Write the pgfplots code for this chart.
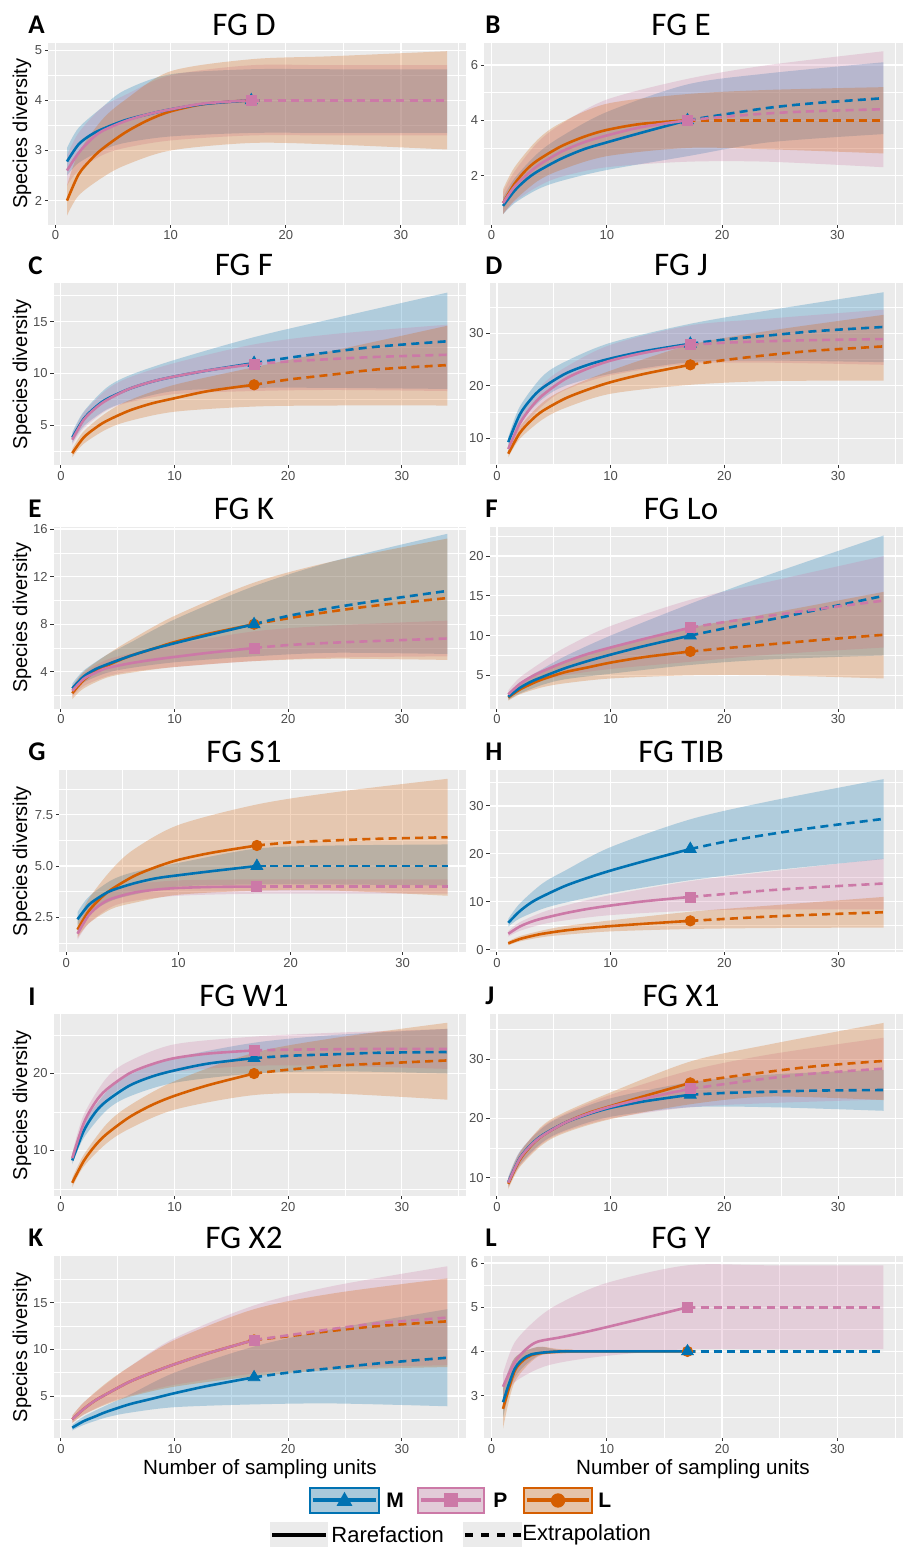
\documentclass[border=0pt]{standalone}
\usepackage{fontspec}
\setmainfont{Liberation Sans}
\newfontfamily\titlefont{Carlito}
\usepackage{xcolor}
\usepackage{pgfplots}
\usepackage{pgfplotstable}
\pgfplotsset{compat=1.18}
\usepgfplotslibrary{fillbetween}
\definecolor{Mc}{HTML}{0072B2}
\definecolor{Pc}{HTML}{CC79A7}
\definecolor{Lc}{HTML}{D55E00}
\definecolor{ggbg}{HTML}{EBEBEB}
\definecolor{ggtxt}{HTML}{4D4D4D}
\definecolor{ggtick}{HTML}{333333}

\pgfplotsset{
  gg/.style={
    scale only axis, height=91pt,
    xmin=-0.65, xmax=35.65,
    xtick={0,10,20,30}, minor xtick={5,15,25,35},
    xmajorgrids, ymajorgrids, xminorgrids, yminorgrids,
    major grid style={white, line width=0.6pt},
    minor grid style={white, line width=0.3pt},
    axis background/.style={fill=ggbg},
    axis line style={draw=none},
    tick align=outside, tick pos=left,
    major tick length=1.6pt, minor tick length=0pt,
    tick style={ggtick, line width=0.45pt},
    ticklabel style={font=\fontsize{6.5}{7}\selectfont, text=ggtxt, inner sep=1.2pt},
    /pgf/number format/assume math mode=true,
    set layers,
  },
}

% rarefaction/extrapolation means: x M P L
\pgfplotstableread{
x M P L
1 2.78 2.60 2.00
2 3.12 2.95 2.52
3 3.30 3.20 2.80
4 3.42 3.38 3.02
6 3.60 3.58 3.35
8 3.72 3.72 3.60
10 3.82 3.82 3.78
13 3.93 3.94 3.93
17 4.00 4.00 4.00
20 4.00 4.00 4.00
24 4.00 4.00 4.00
28 4.00 4.00 4.00
34 4.00 4.00 4.00
}\mA
\pgfplotstableread{
x Ml Mh Pl Ph Ll Lh
1 2.50 3.05 2.30 2.90 1.70 2.30
2 2.75 3.45 2.60 3.35 2.10 2.95
4 3.00 3.85 2.90 3.85 2.45 3.60
6 3.15 4.20 3.05 4.10 2.70 4.00
10 3.28 4.52 3.20 4.50 3.00 4.58
17 3.35 4.62 3.30 4.70 3.15 4.82
24 3.35 4.62 3.30 4.70 3.12 4.88
34 3.35 4.62 3.30 4.70 3.02 4.98
}\bA

\pgfplotstableread{
x M P L
1 0.90 1.00 1.00
2 1.45 1.60 1.70
3 1.85 2.00 2.20
4 2.15 2.35 2.55
6 2.60 2.85 3.05
8 2.95 3.20 3.40
10 3.20 3.45 3.65
13 3.55 3.75 3.87
17 4.00 4.00 4.00
20 4.20 4.12 4.00
24 4.45 4.25 4.00
28 4.62 4.33 4.00
34 4.80 4.40 4.00
}\mB
\pgfplotstableread{
x Ml Mh Pl Ph Ll Lh
1 0.60 1.20 0.60 1.40 0.60 1.50
2 1.00 1.90 1.05 2.15 1.10 2.30
4 1.50 2.80 1.60 3.20 1.80 3.30
6 1.80 3.40 1.95 3.85 2.20 3.90
10 2.20 4.30 2.30 4.75 2.70 4.60
17 2.70 5.30 2.50 5.50 3.00 4.95
24 3.20 5.70 2.50 6.00 2.95 5.10
34 3.50 6.10 2.30 6.50 2.80 5.20
}\bB

\pgfplotstableread{
x M P L
1 3.8 3.6 2.3
2 5.6 5.5 3.8
3 6.7 6.6 4.7
4 7.5 7.4 5.4
6 8.5 8.5 6.4
8 9.2 9.2 7.1
10 9.7 9.7 7.6
13 10.3 10.3 8.3
17 11.0 10.9 8.9
20 11.5 11.15 9.4
24 12.1 11.4 9.9
28 12.6 11.6 10.4
34 13.1 11.8 10.8
}\mC
\pgfplotstableread{
x Ml Mh Pl Ph Ll Lh
1 3.3 4.3 3.1 4.1 1.9 2.7
2 4.9 6.3 4.7 6.2 3.2 4.4
4 6.5 8.6 6.4 8.4 4.6 6.2
6 7.3 9.8 7.2 9.6 5.4 7.4
10 8.3 11.3 8.0 11.0 6.3 8.9
17 8.6 13.5 8.3 12.8 6.8 10.6
24 8.6 15.3 8.4 13.8 6.9 12.2
34 8.5 17.8 8.3 14.7 6.9 14.6
}\bC

\pgfplotstableread{
x M P L
1 9.3 8.0 7.1
2 14.5 12.8 11.0
3 17.5 15.9 13.4
4 19.6 18.2 15.2
6 22.3 21.3 17.6
8 24.0 23.3 19.3
10 25.2 24.8 20.7
13 26.6 26.3 22.3
17 28.0 27.8 24.0
20 28.8 28.2 24.9
24 29.6 28.5 25.9
28 30.4 28.7 26.7
34 31.2 28.9 27.5
}\mD
\pgfplotstableread{
x Ml Mh Pl Ph Ll Lh
1 8.5 10.2 7.2 8.8 6.4 7.8
2 13.0 16.0 11.4 14.2 9.9 12.2
4 17.5 21.8 16.2 20.2 13.6 16.8
6 20.0 24.6 19.2 23.5 15.8 19.4
10 22.3 28.2 22.0 27.8 18.5 22.9
17 24.5 31.8 24.2 31.5 20.2 27.8
24 24.8 34.4 24.4 32.8 20.9 30.5
34 24.5 37.8 24.0 34.5 21.0 33.5
}\bD

\pgfplotstableread{
x M P L
1 2.6 2.4 2.2
2 3.6 3.4 3.3
3 4.2 3.9 4.0
4 4.6 4.3 4.5
6 5.3 4.7 5.3
8 5.9 5.0 5.9
10 6.4 5.25 6.5
13 7.1 5.6 7.2
17 8.0 6.0 8.0
20 8.7 6.25 8.5
24 9.4 6.45 9.1
28 10.0 6.6 9.6
34 10.8 6.8 10.2
}\mE
\pgfplotstableread{
x Ml Mh Pl Ph Ll Lh
1 2.2 3.0 1.9 2.8 1.7 2.7
2 3.1 4.1 2.8 3.9 2.6 4.0
4 3.9 5.4 3.6 5.0 3.5 5.4
6 4.3 6.4 4.0 5.5 3.9 6.6
10 4.8 8.4 4.4 6.3 4.4 8.7
17 5.3 11.2 4.9 7.4 4.9 11.5
24 5.6 13.3 5.2 7.9 5.1 13.3
34 5.5 15.6 5.3 8.3 5.0 15.2
}\bE

\pgfplotstableread{
x M P L
1 2.3 2.6 2.2
2 3.4 3.9 3.2
3 4.2 4.8 3.9
4 4.8 5.5 4.5
6 5.9 6.7 5.4
8 6.8 7.7 6.0
10 7.6 8.5 6.6
13 8.7 9.6 7.3
17 10.0 11.0 8.0
20 10.9 11.7 8.4
24 12.0 12.5 8.9
28 13.2 13.3 9.4
34 15.0 14.4 10.1
}\mF
\pgfplotstableread{
x Ml Mh Pl Ph Ll Lh
1 1.9 2.7 2.1 3.1 1.8 2.6
2 2.7 4.1 3.1 4.7 2.6 3.8
4 3.8 5.8 4.3 6.7 3.5 5.4
6 4.5 7.4 5.0 8.5 4.0 6.8
10 5.2 10.0 5.8 11.2 4.6 8.6
17 6.3 14.0 6.7 14.5 5.0 11.0
24 7.0 17.7 7.6 16.8 5.0 12.8
34 7.5 22.6 8.5 20.0 4.6 15.5
}\bF

\pgfplotstableread{
x M P L
1 2.4 1.7 1.9
2 3.1 2.6 2.8
3 3.5 3.1 3.4
4 3.8 3.4 3.85
6 4.15 3.7 4.5
8 4.4 3.85 4.95
10 4.55 3.93 5.3
13 4.75 3.98 5.65
17 5.0 4.0 6.0
20 5.0 4.0 6.15
24 5.0 4.0 6.25
28 5.0 4.0 6.33
34 5.0 4.0 6.4
}\mG
\pgfplotstableread{
x Ml Mh Pl Ph Ll Lh
1 2.1 2.75 1.4 2.0 1.5 2.3
2 2.7 3.5 2.2 3.0 2.2 3.4
4 3.3 4.3 3.0 3.8 2.9 4.8
6 3.6 4.7 3.3 4.1 3.2 5.8
10 4.0 5.15 3.55 4.3 3.6 7.0
17 4.1 5.85 3.65 4.35 3.8 8.0
24 4.1 6.0 3.65 4.35 3.8 8.6
34 4.05 6.05 3.65 4.35 3.55 9.25
}\bG

\pgfplotstableread{
x M P L
1 5.6 3.3 1.3
2 8.0 4.8 2.2
3 9.8 5.8 2.8
4 11.1 6.5 3.3
6 13.3 7.6 4.0
8 15.0 8.5 4.5
10 16.5 9.2 4.9
13 18.5 10.1 5.4
17 21.0 11.0 6.0
20 22.5 11.6 6.4
24 24.1 12.4 6.9
28 25.5 13.0 7.3
34 27.3 13.8 7.8
}\mH
\pgfplotstableread{
x Ml Mh Pl Ph Ll Lh
1 4.8 6.4 2.7 3.9 0.9 1.7
2 6.5 9.6 3.9 5.7 1.7 2.8
4 8.5 13.8 5.3 7.8 2.6 4.0
6 9.8 16.5 6.1 9.2 3.1 4.9
10 11.8 21.4 7.2 11.4 3.8 6.1
17 14.5 27.2 8.1 14.3 4.3 7.9
24 16.5 31.0 8.4 16.3 4.5 9.2
34 18.9 35.6 8.4 19.0 4.6 11.0
}\bH

\pgfplotstableread{
x M P L
1 8.7 9.0 5.8
2 12.5 13.5 8.6
3 14.9 16.2 10.6
4 16.4 17.9 12.1
6 18.4 20.0 14.3
8 19.6 21.2 15.9
10 20.4 22.0 17.1
13 21.3 22.6 18.5
17 22.0 23.0 20.0
20 22.3 23.1 20.5
24 22.5 23.15 21.0
28 22.7 23.2 21.3
34 22.8 23.2 21.7
}\mI
\pgfplotstableread{
x Ml Mh Pl Ph Ll Lh
1 8.2 9.3 8.4 9.6 5.2 6.4
2 11.6 13.5 12.4 14.6 7.9 9.4
4 15.2 17.6 16.6 19.4 10.9 13.4
6 17.0 19.8 18.6 21.6 12.8 15.8
10 18.8 22.0 20.2 23.8 15.3 19.0
17 20.0 24.0 21.0 24.8 17.2 22.7
24 20.3 25.0 21.0 25.3 17.4 24.6
34 20.0 25.8 20.6 25.8 16.6 26.6
}\bI

\pgfplotstableread{
x M P L
1 9.3 9.2 9.0
2 13.3 13.2 13.0
3 15.6 15.5 15.4
4 17.2 17.1 17.1
6 19.3 19.3 19.3
8 20.7 20.8 20.9
10 21.8 22.0 22.1
13 22.9 23.4 23.8
17 24.0 25.0 26.0
20 24.3 25.8 26.9
24 24.5 26.8 27.9
28 24.7 27.6 28.8
34 24.8 28.4 29.7
}\mJ
\pgfplotstableread{
x Ml Mh Pl Ph Ll Lh
1 8.5 10.1 8.3 10.1 8.1 9.9
2 12.2 14.4 12.0 14.4 11.8 14.2
4 16.0 18.4 15.8 18.6 15.6 18.8
6 18.0 20.6 17.8 20.8 17.6 21.1
10 20.3 23.4 20.0 24.0 19.9 24.4
17 21.9 26.1 21.9 28.1 22.4 29.6
24 21.9 27.4 22.6 30.8 23.7 32.5
34 21.3 28.2 23.2 33.6 23.1 36.1
}\bJ

\pgfplotstableread{
x M P L
1 1.6 2.5 2.5
2 2.3 3.6 3.6
3 2.8 4.5 4.5
4 3.3 5.2 5.2
6 4.1 6.5 6.5
8 4.7 7.5 7.5
10 5.3 8.4 8.4
13 6.1 9.6 9.6
17 7.0 11.0 11.0
20 7.5 11.5 11.4
24 8.0 12.2 12.0
28 8.5 12.8 12.5
34 9.1 13.4 13.0
}\mK
\pgfplotstableread{
x Ml Mh Pl Ph Ll Lh
1 1.3 1.9 2.1 2.9 2.1 2.9
2 1.9 2.8 3.0 4.3 3.0 4.3
4 2.7 4.0 4.2 6.3 4.1 6.4
6 3.2 5.1 5.0 8.1 4.9 8.1
10 3.8 7.5 6.2 11.2 6.0 11.0
17 4.1 10.3 7.4 14.7 7.1 14.3
24 4.2 12.2 8.0 16.8 7.8 16.0
34 3.9 14.3 8.3 18.9 8.1 17.6
}\bK

\pgfplotstableread{
x M P L
1 2.85 3.20 2.70
2 3.60 3.75 3.55
3 3.88 4.05 3.85
4 3.96 4.22 3.95
6 4.00 4.32 4.00
8 4.00 4.43 4.00
10 4.00 4.55 4.00
13 4.00 4.74 4.00
17 4.00 5.00 4.00
20 4.00 5.00 4.00
24 4.00 5.00 4.00
28 4.00 5.00 4.00
34 4.00 5.00 4.00
}\mL
\pgfplotstableread{
x Ml Mh Pl Ph Ll Lh
1 2.50 3.20 2.90 3.50 2.25 3.15
2 3.40 3.85 3.30 4.20 3.30 3.85
4 3.90 4.10 3.60 4.75 3.88 4.10
6 3.97 4.03 3.75 5.10 3.95 4.05
10 4.00 4.00 3.90 5.55 4.00 4.00
17 4.00 4.00 4.05 5.95 4.00 4.00
24 4.00 4.00 4.05 5.95 4.00 4.00
34 4.00 4.00 4.05 5.95 4.00 4.00
}\bL

% confidence bands of the three series
\newcommand{\bands}[1]{%
  \addplot[name path=Mh, draw=none, smooth] table[x=x,y=Mh]{#1};
  \addplot[name path=Ml, draw=none, smooth] table[x=x,y=Ml]{#1};
  \addplot[fill=Mc, fill opacity=0.25, draw=none] fill between[of=Mh and Ml];
  \addplot[name path=Ph, draw=none, smooth] table[x=x,y=Ph]{#1};
  \addplot[name path=Pl, draw=none, smooth] table[x=x,y=Pl]{#1};
  \addplot[fill=Pc, fill opacity=0.25, draw=none] fill between[of=Ph and Pl];
  \addplot[name path=Lh, draw=none, smooth] table[x=x,y=Lh]{#1};
  \addplot[name path=Ll, draw=none, smooth] table[x=x,y=Ll]{#1};
  \addplot[fill=Lc, fill opacity=0.25, draw=none] fill between[of=Lh and Ll];
}
% one series: colour, column, mark options
\newcommand{\series}[4]{%
  \addplot[#1, line width=1.3pt, smooth, restrict x to domain=1:17] table[x=x,y=#2]{#4};
  \addplot[#1, line width=1.3pt, smooth, dash pattern=on 4pt off 2.6pt, restrict x to domain=17:34] table[x=x,y=#2]{#4};
  \addplot[#1, only marks, #3, restrict x to domain=16.5:17.5] table[x=x,y=#2]{#4};
}
\newcommand{\curves}[1]{%
  \series{Lc}{L}{mark=*, mark size=2.6pt}{#1}
  \series{Mc}{M}{mark=triangle*, mark size=3.4pt}{#1}
  \series{Pc}{P}{mark=square*, mark size=2.5pt}{#1}
}

\begin{document}
\begin{tikzpicture}

% ---- row 1
\begin{axis}[gg, width=209pt, at={(24pt,752.15pt)}, anchor=north west,
  ymin=1.52, ymax=5.15, ytick={2,3,4,5}, minor ytick={2.5,3.5,4.5}]
  \bands{\bA}\curves{\mA}
\end{axis}
\begin{axis}[gg, width=209.25pt, at={(242pt,752.15pt)}, anchor=north west,
  ymin=0.22, ymax=6.81, ytick={2,4,6}, minor ytick={1,3,5}]
  \bands{\bB}\curves{\mB}
\end{axis}
% ---- row 2
\begin{axis}[gg, width=206.25pt, at={(26.75pt,631.85pt)}, anchor=north west,
  ymin=1.13, ymax=18.7, ytick={5,10,15}, minor ytick={2.5,7.5,12.5,17.5}]
  \bands{\bC}\curves{\mC}
\end{axis}
\begin{axis}[gg, width=206.5pt, at={(244.75pt,631.85pt)}, anchor=north west,
  ymin=4.9, ymax=39.5, ytick={10,20,30}, minor ytick={5,15,25,35}]
  \bands{\bD}\curves{\mD}
\end{axis}
% ---- row 3
\begin{axis}[gg, width=206.25pt, at={(26.75pt,510.15pt)}, anchor=north west,
  ymin=0.9, ymax=16.2, ytick={4,8,12,16}, minor ytick={2,6,10,14}]
  \bands{\bE}\curves{\mE}
\end{axis}
\begin{axis}[gg, width=206.5pt, at={(244.75pt,510.15pt)}, anchor=north west,
  ymin=0.8, ymax=23.7, ytick={5,10,15,20}, minor ytick={2.5,7.5,12.5,17.5,22.5}]
  \bands{\bF}\curves{\mF}
\end{axis}
% ---- row 4
\begin{axis}[gg, width=203.5pt, at={(29.5pt,388.5pt)}, anchor=north west,
  ymin=0.81, ymax=9.68, ytick={2.5,5,7.5}, yticklabels={2.5,5.0,7.5},
  minor ytick={1.25,3.75,6.25,8.75}]
  \bands{\bG}\curves{\mG}
\end{axis}
\begin{axis}[gg, width=206.5pt, at={(244.75pt,388.5pt)}, anchor=north west,
  ymin=-0.5, ymax=37.5, ytick={0,10,20,30}, minor ytick={5,15,25,35}]
  \bands{\bH}\curves{\mH}
\end{axis}
% ---- row 5
\begin{axis}[gg, width=206.25pt, at={(26.75pt,266.35pt)}, anchor=north west,
  ymin=4.04, ymax=27.7, ytick={10,20}, minor ytick={5,15,25}]
  \bands{\bI}\curves{\mI}
\end{axis}
\begin{axis}[gg, width=206.5pt, at={(244.75pt,266.35pt)}, anchor=north west,
  ymin=6.9, ymax=37.55, ytick={10,20,30}, minor ytick={15,25,35}]
  \bands{\bJ}\curves{\mJ}
\end{axis}
% ---- row 6
\begin{axis}[gg, width=206.25pt, at={(26.75pt,145.5pt)}, anchor=north west,
  ymin=0.5, ymax=20, ytick={5,10,15}, minor ytick={2.5,7.5,12.5,17.5}]
  \bands{\bK}\curves{\mK}
\end{axis}
\begin{axis}[gg, width=209.25pt, at={(242pt,145.5pt)}, anchor=north west,
  ymin=2.04, ymax=6.16, ytick={3,4,5,6}, minor ytick={2.5,3.5,4.5,5.5}]
  \bands{\bL}\curves{\mL}
\end{axis}

% titles and panel letters
\foreach \t/\y in {FG D/761.15, FG F/640.85, FG K/519.15, FG S1/397.5, FG W1/275.35, FG X2/154.5}
  \node[font=\titlefont\fontsize{16.5}{17}\selectfont] at (122pt,\y pt) {\t};
\foreach \t/\y in {FG E/761.15, FG J/640.85, FG Lo/519.15, FG TIB/397.5, FG X1/275.35, FG Y/154.5}
  \node[font=\titlefont\fontsize{16.5}{17}\selectfont] at (340.5pt,\y pt) {\t};
\foreach \t/\y in {A/761.15, C/640.85, E/519.15, G/397.5, I/275.35, K/154.5}
  \node[anchor=west, inner sep=0pt, font=\titlefont\bfseries\fontsize{13.5}{14}\selectfont] at (14pt,\y pt) {\t};
\foreach \t/\y in {B/761.15, D/640.85, F/519.15, H/397.5, J/275.35, L/154.5}
  \node[anchor=west, inner sep=0pt, font=\titlefont\bfseries\fontsize{13.5}{14}\selectfont] at (242.5pt,\y pt) {\t};
\foreach \y in {706.65, 586.35, 464.65, 343, 220.85, 100}
  \node[rotate=90, inner sep=0pt, font=\fontsize{10}{11}\selectfont] at (11pt,\y pt) {Species diversity};
\node[font=\fontsize{10.3}{11}\selectfont] at (130pt,39pt) {Number of sampling units};
\node[font=\fontsize{10.3}{11}\selectfont] at (346.5pt,39pt) {Number of sampling units};

% legend
\draw[Mc, line width=1.1pt, fill=Mc!28!ggbg] (155pt,17pt) rectangle (189.5pt,29.5pt);
\draw[Mc, line width=2pt] (156.5pt,23.25pt) -- (188pt,23.25pt);
\fill[Mc] (172.25pt,27.6pt) -- (168.3pt,20.6pt) -- (176.2pt,20.6pt) -- cycle;
\node[anchor=west, inner sep=0pt, font=\bfseries\fontsize{10.5}{11}\selectfont] at (193pt,23.25pt) {M};
\draw[Pc, line width=1.1pt, fill=Pc!28!ggbg] (209pt,17pt) rectangle (242pt,29.5pt);
\draw[Pc, line width=2pt] (210.5pt,23.25pt) -- (240.5pt,23.25pt);
\fill[Pc] (222pt,19.75pt) rectangle (229pt,26.75pt);
\node[anchor=west, inner sep=0pt, font=\bfseries\fontsize{10.5}{11}\selectfont] at (246.5pt,23.25pt) {P};
\draw[Lc, line width=1.1pt, fill=Lc!28!ggbg] (262pt,17pt) rectangle (296pt,29.5pt);
\draw[Lc, line width=2pt] (263.5pt,23.25pt) -- (294.5pt,23.25pt);
\fill[Lc] (279pt,23.25pt) circle (3.6pt);
\node[anchor=west, inner sep=0pt, font=\bfseries\fontsize{10.5}{11}\selectfont] at (299pt,23.25pt) {L};
\fill[ggbg] (135pt,0pt) rectangle (164pt,12.5pt);
\draw[black, line width=2.2pt] (136pt,6pt) -- (163pt,6pt);
\node[anchor=west, inner sep=0pt, font=\fontsize{11}{12}\selectfont] at (165.5pt,6pt) {Rarefaction};
\fill[ggbg] (231.5pt,0pt) rectangle (261pt,12.5pt);
\draw[black, line width=2.2pt, dash pattern=on 4pt off 4pt] (232.5pt,6pt) -- (261pt,6pt);
\node[anchor=west, inner sep=0pt, font=\fontsize{11}{12}\selectfont] at (261pt,6pt) {Extrapolation};

\pgfresetboundingbox
\useasboundingbox (0,0) rectangle (453pt,773.5pt);
\end{tikzpicture}
\end{document}
